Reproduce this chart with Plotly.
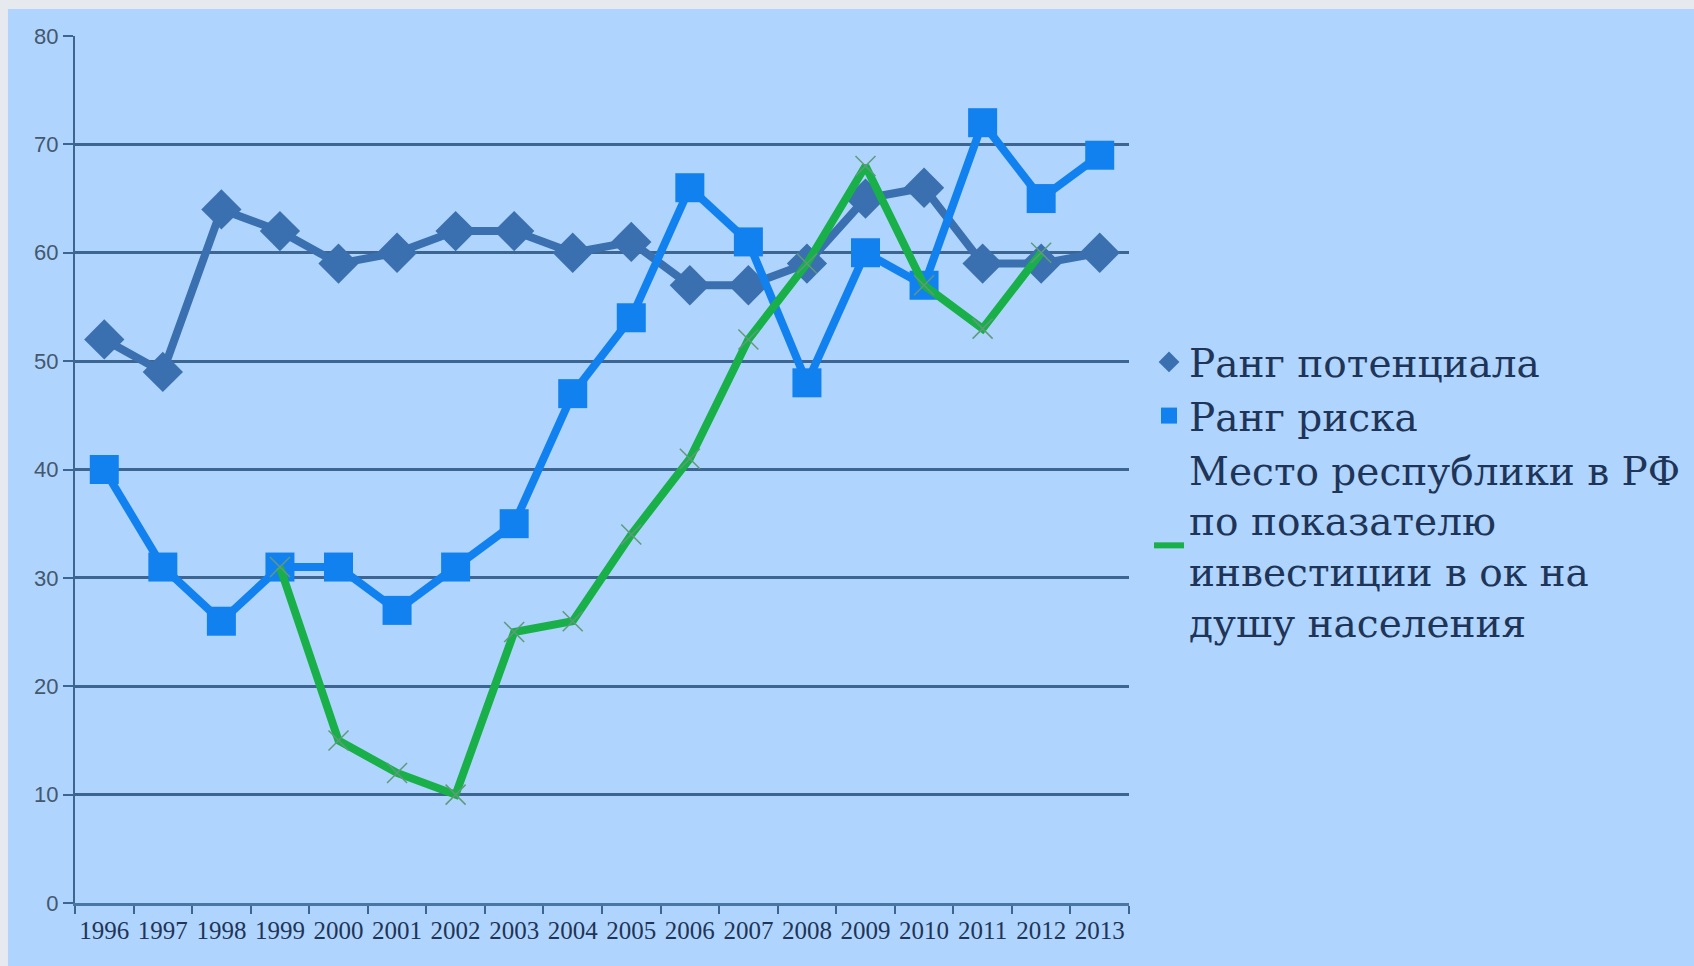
import plotly.graph_objects as go

years = ["1996", "1997", "1998", "1999", "2000", "2001", "2002", "2003", "2004",
         "2005", "2006", "2007", "2008", "2009", "2010", "2011", "2012", "2013"]
potential_rank = [52, 49, 64, 62, 59, 60, 62, 62, 60, 61, 57, 57, 59, 65, 66, 59, 59, 60]
risk_rank = [40, 31, 26, 31, 31, 27, 31, 35, 47, 54, 66, 61, 48, 60, 57, 72, 65, 69]
invest_place = [None, None, None, 31, 15, 12, 10, 25, 26, 34, 41, 52, 59, 68, 57, 53, 60, None]

names = ["Ранг потенциала", "Ранг риска",
         "Место республики в РФ<br>по показателю<br>инвестиции в ок на<br>душу населения"]

C_POT = "#3a70b0"
C_RISK = "#1281f0"
C_GREEN = "#19b04a"
BG = "#afd4fd"
GRID = "#3d6592"
TXT = "#1f3558"

fig = go.Figure()
fig.add_trace(go.Scatter(x=years, y=potential_rank, mode="lines+markers",
                         line=dict(color=C_POT, width=8),
                         marker=dict(symbol="diamond", size=31, color=C_POT),
                         showlegend=False, name=names[0]))
fig.add_trace(go.Scatter(x=years, y=risk_rank, mode="lines+markers",
                         line=dict(color=C_RISK, width=8),
                         marker=dict(symbol="square", size=29, color=C_RISK),
                         showlegend=False, name=names[1]))
fig.add_trace(go.Scatter(x=years, y=invest_place, mode="lines+markers",
                         line=dict(color=C_GREEN, width=8),
                         marker=dict(symbol="x-thin", size=20, color=C_GREEN,
                                     line=dict(color="#5f9a7a", width=1.5)),
                         showlegend=False, name=names[2]))
# legend-only entries
fig.add_trace(go.Scatter(x=[None], y=[None], mode="markers", name=names[0],
                         marker=dict(symbol="diamond", size=16, color=C_POT)))
fig.add_trace(go.Scatter(x=[None], y=[None], mode="markers", name=names[1],
                         marker=dict(symbol="square", size=16, color=C_RISK)))
fig.add_trace(go.Scatter(x=[None], y=[None], mode="lines", name=names[2],
                         line=dict(color=C_GREEN, width=6)))

fig.add_shape(type="rect", xref="paper", yref="paper",
              x0=-0.0636, x1=1.7, y0=-0.2, y1=1.0311,
              fillcolor=BG, line=dict(width=0), layer="below")

fig.update_layout(
    width=1694, height=966,
    margin=dict(l=75, r=565, t=36, b=63, autoexpand=False),
    paper_bgcolor="#e6eaef",
    plot_bgcolor="rgba(0,0,0,0)",
    showlegend=True,
    legend=dict(x=1.019, xanchor="left", y=0.474, yanchor="middle",
                font=dict(family="DejaVu Serif", size=39, color=TXT),
                bgcolor="rgba(0,0,0,0)", tracegroupgap=0),
    xaxis=dict(type="category", range=[-0.5, 17.5], tickson="boundaries",
               ticks="outside", ticklen=8,
               tickcolor=GRID, tickwidth=2, showline=True, linecolor="#4a76a6", linewidth=3,
               showgrid=False, ticklabelstandoff=3, tickangle=0, automargin=False,
               tickfont=dict(family="Liberation Serif", size=25, color=TXT)),
    yaxis=dict(range=[0, 80], tick0=0, dtick=10, ticks="outside", ticklen=10,
               tickcolor=GRID, tickwidth=2, showline=True, linecolor=GRID, linewidth=2,
               showgrid=True, gridcolor=GRID, gridwidth=2.5, zeroline=False, automargin=False,
               tickfont=dict(family="Liberation Sans", size=22, color="#44586e")),
)

fig.write_html("out.html", config={"displayModeBar": False},
               post_script="document.body.style.margin='0';document.body.style.overflow='hidden';")
